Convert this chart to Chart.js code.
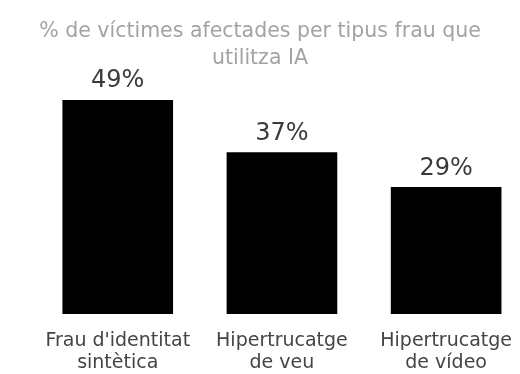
<!DOCTYPE html>
<html>
<head>
<meta charset="utf-8">
<script src="https://cdn.jsdelivr.net/npm/chart.js@4/dist/chart.umd.min.js"></script>
<style>
  html, body { margin: 0; padding: 0; background: #ffffff; overflow: hidden; }
  #wrap { width: 520px; height: 374px; position: relative; }
</style>
</head>
<body>
<div id="wrap"><canvas id="c"></canvas></div>
<script>
const titleLines = ["% de víctimes afectades per tipus frau que", "utilitza IA"];
const categories = [
  ["Frau d'identitat", "sintètica"],
  ["Hipertrucatge", "de veu"],
  ["Hipertrucatge", "de vídeo"]
];
const values = [49, 37, 29];

const FONT = "'DejaVu Sans', Arial, sans-serif";

const valueLabels = {
  id: 'valueLabels',
  afterDatasetsDraw(chart) {
    const ctx = chart.ctx;
    const meta = chart.getDatasetMeta(0);
    ctx.save();
    ctx.font = "24px " + FONT;
    ctx.fillStyle = "#3a3a3a";
    ctx.textAlign = "center";
    ctx.textBaseline = "middle";
    meta.data.forEach((el, i) => {
      ctx.fillText(values[i] + "%", el.x, el.y - 19);
    });
    ctx.restore();
  }
};

new Chart(document.getElementById('c'), {
  type: 'bar',
  data: {
    datasets: [{
      data: values.map((v, i) => ({ x: i, y: v })),
      backgroundColor: '#000000',
      borderWidth: 0,
      barThickness: 110
    }]
  },
  options: {
    responsive: true,
    maintainAspectRatio: false,
    animation: false,
    layout: { padding: { left: 0, right: 0, top: 0, bottom: 0 } },
    plugins: {
      legend: { display: false },
      tooltip: { enabled: false },
      title: {
        display: true,
        text: titleLines,
        color: '#a3a3a3',
        font: { family: FONT, size: 20.5, weight: 'normal', lineHeight: 1.32 },
        padding: { top: 18, bottom: 28 }
      }
    },
    scales: {
      x: {
        type: 'linear',
        offset: false,
        bounds: 'data',
        min: -0.717,
        max: 2.444,
        grid: { display: false, offset: false },
        border: { display: false },
        afterBuildTicks(scale) {
          scale.ticks = categories.map((c, i) => ({ value: i }));
        },
        afterFit(scale) {
          scale.height = 60;
        },
        ticks: {
          autoSkip: false,
          maxRotation: 0,
          minRotation: 0,
          padding: 8,
          color: '#444444',
          font: { family: FONT, size: 19, lineHeight: 1.16 },
          callback: (v) => categories[v]
        }
      },
      y: {
        display: false,
        min: 0,
        max: 49
      }
    }
  },
  plugins: [valueLabels]
});
</script>
</body>
</html>
